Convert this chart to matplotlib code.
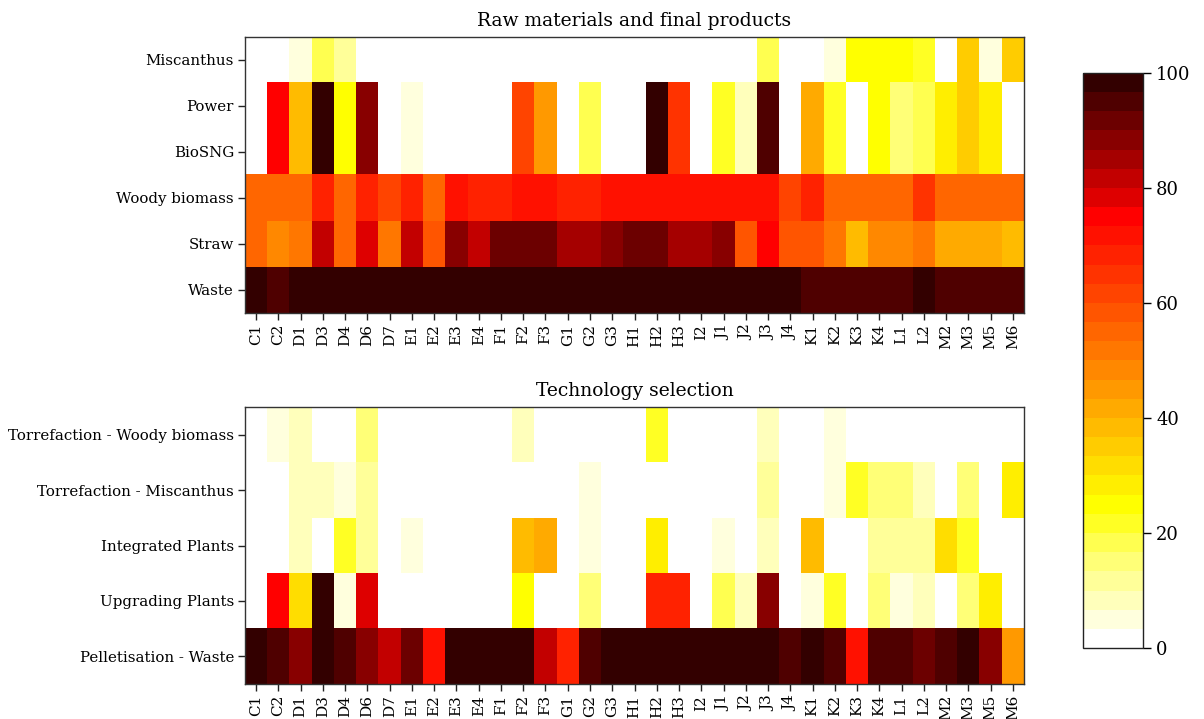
import numpy as np
import matplotlib
matplotlib.use("Agg")
import matplotlib.pyplot as plt
from matplotlib.colors import ListedColormap, BoundaryNorm

plt.rcParams['font.family'] = ['DejaVu Serif']

# Columns (scenarios)
cols = ["C1", "C2", "D1", "D3", "D4", "D6", "D7", "E1", "E2", "E3", "E4",
        "F1", "F2", "F3", "G1", "G2", "G3", "H1", "H2", "H3", "I2", "J1",
        "J2", "J3", "J4", "K1", "K2", "K3", "K4", "L1", "L2", "M2", "M3",
        "M5", "M6"]

# Raw materials and final products (%)
top_rows = ["Miscanthus", "Power", "BioSNG", "Woody biomass", "Straw", "Waste"]
miscanthus = [0, 0, 5, 18, 12, 0, 0, 0, 0, 0, 0, 0, 0, 0, 0, 0, 0, 0, 0, 0,
              0, 0, 0, 18, 0, 0, 5, 25, 25, 25, 22, 0, 35, 5, 35]
power = [0, 75, 38, 98, 25, 88, 0, 5, 0, 0, 0, 0, 62, 45, 0, 18, 0, 0, 98, 65,
         0, 22, 8, 95, 0, 42, 22, 0, 25, 15, 18, 28, 35, 28, 0]
biosng = [0, 75, 38, 98, 25, 88, 0, 5, 0, 0, 0, 0, 62, 45, 0, 18, 0, 0, 98, 65,
          0, 22, 8, 95, 0, 42, 22, 0, 25, 15, 18, 28, 35, 28, 0]
woody = [55, 55, 55, 68, 55, 68, 62, 68, 55, 72, 68, 68, 72, 72, 68, 68, 72,
         72, 72, 72, 72, 72, 72, 72, 62, 68, 55, 55, 55, 55, 65, 55, 55, 55, 55]
straw = [55, 48, 52, 82, 55, 78, 52, 82, 58, 88, 82, 92, 92, 92, 85, 85, 88,
         92, 92, 85, 85, 88, 58, 75, 58, 58, 52, 38, 48, 48, 52, 42, 42, 42, 38]
waste = [98, 95, 98, 98, 98, 98, 98, 98, 98, 98, 98, 98, 98, 98, 98, 98, 98,
         98, 98, 98, 98, 98, 98, 98, 98, 95, 95, 95, 95, 95, 98, 95, 95, 95, 95]

# Technology selection (%)
bot_rows = ["Torrefaction - Woody biomass", "Torrefaction - Miscanthus",
            "Integrated Plants", "Upgrading Plants", "Pelletisation - Waste"]
torr_woody = [0, 5, 8, 0, 0, 15, 0, 0, 0, 0, 0, 0, 8, 0, 0, 0, 0, 0, 22, 0,
              0, 0, 0, 8, 0, 0, 5, 0, 0, 0, 0, 0, 0, 0, 0]
torr_misc = [0, 0, 8, 8, 5, 12, 0, 0, 0, 0, 0, 0, 0, 0, 0, 5, 0, 0, 0, 0,
             0, 0, 0, 12, 0, 0, 5, 22, 15, 15, 8, 0, 15, 0, 28]
integrated = [0, 0, 8, 0, 22, 12, 0, 5, 0, 0, 0, 0, 38, 42, 0, 5, 0, 0, 28, 0,
              0, 5, 0, 8, 0, 38, 0, 0, 12, 12, 12, 32, 22, 0, 0]
upgrading = [0, 75, 32, 98, 5, 78, 0, 0, 0, 0, 0, 0, 25, 0, 0, 15, 0, 0, 68, 68,
             0, 18, 8, 88, 0, 5, 22, 0, 15, 5, 8, 0, 15, 28, 0]
pellet_waste = [98, 95, 88, 98, 95, 88, 82, 92, 72, 98, 98, 98, 98, 82, 68, 95,
                98, 98, 98, 98, 98, 98, 98, 98, 95, 98, 95, 72, 95, 95, 92, 95,
                98, 88, 45]

top = np.array([miscanthus, power, biosng, woody, straw, waste])
bot = np.array([torr_woody, torr_misc, integrated, upgrading, pellet_waste])

# 30-step white -> yellow -> red -> dark red palette
blues = [255, 221, 187, 153, 119, 80, 36, 0]
colors = ["#ffff%02x" % b for b in blues]
colors += ["#ff%02x00" % (255 - 17 * k) for k in range(1, 16)]
colors += ["#%02x0000" % r for r in [222, 194, 165, 136, 108, 79, 51]]
cmap = ListedColormap(colors)
norm = BoundaryNorm(np.linspace(0, 100, 31), cmap.N)

fig = plt.figure(figsize=(12.04, 7.19), dpi=100)
ax1 = fig.add_axes([0.2035, 0.5647, 0.647, 0.3839])
ax2 = fig.add_axes([0.2035, 0.0487, 0.647, 0.385])


def draw(ax, data, rows, title):
    im = ax.imshow(data, cmap=cmap, norm=norm, aspect='auto',
                   interpolation='nearest')
    ax.set_xticks(np.arange(len(cols)))
    ax.set_xticklabels(cols, rotation=90, fontsize=11)
    ax.set_yticks(np.arange(len(rows)))
    ax.set_yticklabels(rows, fontsize=10.8)
    ax.tick_params(direction='out', length=5, width=1, color='#222222',
                   pad=3)
    for sp in ax.spines.values():
        sp.set_color('#333333')
        sp.set_linewidth(1)
    ax.set_title(title, fontsize=13.5, pad=8)
    return im


im = draw(ax1, top, top_rows, "Raw materials and final products")
draw(ax2, bot, bot_rows, "Technology selection")

cax = fig.add_axes([0.8995, 0.0987, 0.0498, 0.80])
cb = fig.colorbar(im, cax=cax, ticks=[0, 20, 40, 60, 80, 100])
cb.outline.set_color('#222222')
cb.outline.set_linewidth(1)
cax.minorticks_off()
cax.tick_params(direction='out', length=6, width=1, labelsize=13)

fig.savefig("out.png", dpi=100)
